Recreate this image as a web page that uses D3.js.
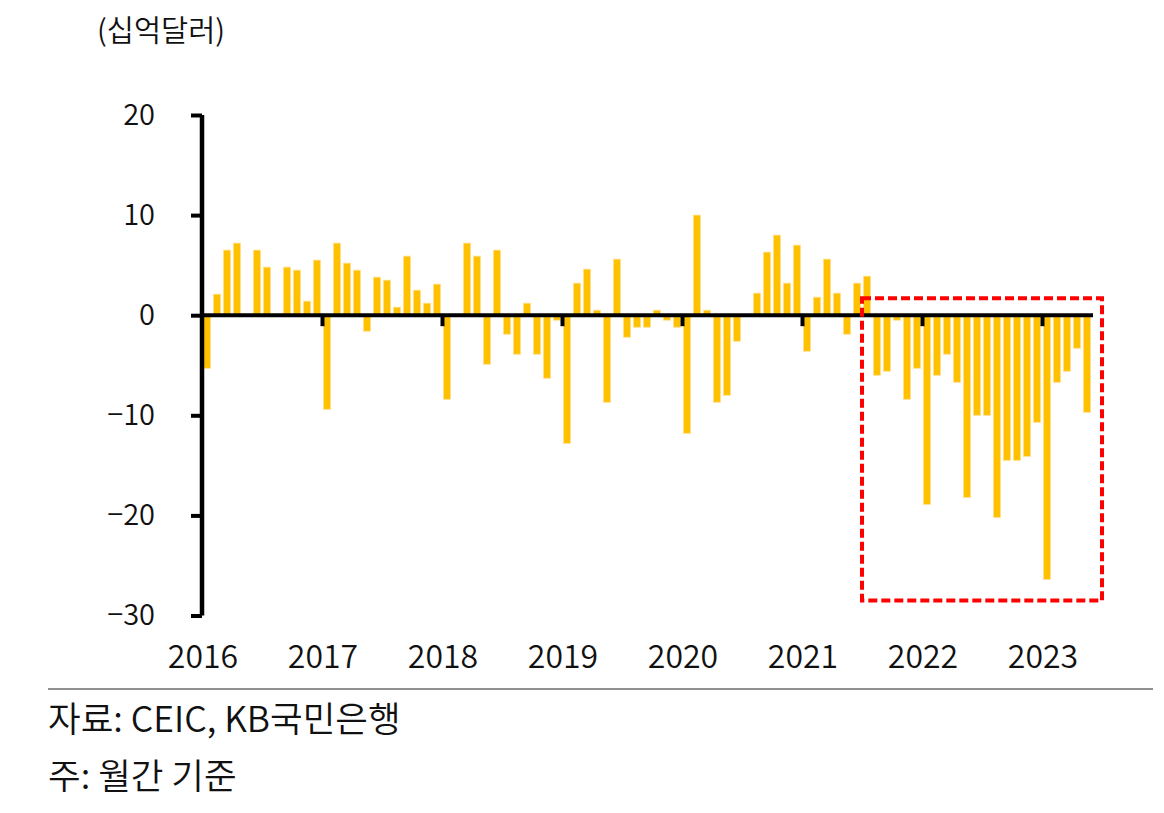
<!DOCTYPE html>
<html>
<head>
<meta charset="utf-8">
<script src="https://cdn.jsdelivr.net/npm/d3@7"></script>
<style>
  body { margin: 0; background: #fff; }
  svg text { font-family: "Noto Sans CJK KR", "Noto Sans", sans-serif; font-weight: 350; fill: #111; }
</style>
</head>
<body>
<div id="chart"></div>
<script>
// monthly values, 2016-01 .. 2023-05 (십억달러)
const years = [2016, 2017, 2018, 2019, 2020, 2021, 2022, 2023];
const values2016 = [-5.3, 2.1, 6.5, 7.2, 0, 6.5, 4.8, 0, 4.8, 4.5, 1.4, 5.5];
const values2017 = [-9.4, 7.2, 5.2, 4.5, -1.6, 3.8, 3.5, 0.8, 5.9, 2.5, 1.2, 3.1];
const values2018 = [-8.4, 0, 7.2, 5.9, -4.9, 6.5, -1.9, -3.9, 1.2, -3.9, -6.3, -0.5];
const values2019 = [-12.8, 3.2, 4.6, 0.5, -8.7, 5.6, -2.2, -1.2, -1.2, 0.5, -0.5, -1.2];
const values2020 = [-11.8, 10.0, 0.5, -8.7, -8.0, -2.6, 0, 2.2, 6.3, 8.0, 3.2, 7.0];
const values2021 = [-3.6, 1.8, 5.6, 2.2, -1.9, 3.2, 3.9, -6.0, -5.6, -0.5, -8.4, -5.3];
const values2022 = [-18.9, -6.0, -3.9, -6.7, -18.2, -10.0, -10.0, -20.2, -14.5, -14.5, -14.1, -10.7];
const values2023 = [-26.4, -6.7, -5.6, -3.3, -9.7];
const yTicks = [20, 10, 0, -10, -20, -30];

const unitLabel = "(십억달러)";
const sourceNote = "자료: CEIC, KB국민은행";
const footNote = "주: 월간 기준";

// highlighted period (red dashed box)
const highlightFrom = 2021.5, highlightTo = 2023.5;
const highlightTop = 1.7, highlightBottom = -28.5;

const allValues = [values2016, values2017, values2018, values2019,
  values2020, values2021, values2022, values2023];
const data = [];
allValues.forEach((arr, yi) => {
  arr.forEach((v, m) => {
    data.push({ key: `${years[yi]}-${String(m + 1).padStart(2, "0")}`, value: v });
  });
});

const svgWidth = 1164, svgHeight = 813;
const left = 202, right = left + data.length * 10;

const svg = d3.select("#chart").append("svg")
  .attr("width", svgWidth)
  .attr("height", svgHeight);

const x = d3.scaleBand()
  .domain(data.map(d => d.key))
  .range([left, right])
  .paddingInner(0.3)
  .paddingOuter(0.15);

const xYear = d3.scaleLinear()
  .domain([2016, 2016 + data.length / 12])
  .range([left, right]);

const y = d3.scaleLinear()
  .domain([-30, 20])
  .range([615.5, 115]);

// bars
svg.append("g").selectAll("rect")
  .data(data.filter(d => d.value !== 0))
  .join("rect")
  .attr("x", d => x(d.key))
  .attr("width", x.bandwidth())
  .attr("y", d => y(Math.max(0, d.value)))
  .attr("height", d => Math.abs(y(d.value) - y(0)))
  .attr("fill", "#FFC000")
  .attr("stroke", "#FFE08C")
  .attr("stroke-width", 0.8);

// zero line with year ticks
const xAxis = svg.append("g")
  .attr("transform", `translate(0,${y(0)})`)
  .call(d3.axisBottom(xYear).tickValues(years.slice(1)).tickSize(11).tickFormat(""));
xAxis.select(".domain").remove();
xAxis.selectAll(".tick line").attr("stroke", "#000").attr("stroke-width", 4);
xAxis.append("line")
  .attr("x1", left).attr("x2", right + 1)
  .attr("stroke", "#000").attr("stroke-width", 4);

// year labels
svg.append("g").selectAll("text")
  .data(years)
  .join("text")
  .attr("x", d => xYear(d) + 1)
  .attr("y", 668)
  .attr("text-anchor", "middle")
  .attr("font-size", 32)
  .text(d => d);

// y axis
const yAxis = svg.append("g")
  .attr("transform", `translate(${left},0)`)
  .call(d3.axisLeft(y).tickValues(yTicks).tickSize(11).tickPadding(36)
    .tickFormat(d => d < 0 ? "\u2212" + Math.abs(d) : d));
yAxis.select(".domain").attr("stroke-width", 4.5).attr("d", `M0,${y(20)}V${y(-30)}`);
yAxis.selectAll(".tick line").attr("stroke", "#000").attr("stroke-width", 4);
yAxis.selectAll(".tick text")
  .attr("font-size", 29)
  .attr("font-family", "'Noto Sans CJK KR', sans-serif")
  .attr("font-weight", 350)
  .attr("fill", "#111");

// highlight box
svg.append("rect")
  .attr("x", xYear(highlightFrom))
  .attr("y", y(highlightTop))
  .attr("width", xYear(highlightTo) - xYear(highlightFrom))
  .attr("height", y(highlightBottom) - y(highlightTop))
  .attr("fill", "none")
  .attr("stroke", "#FF0000")
  .attr("stroke-width", 4)
  .attr("stroke-dasharray", "9 4");

// unit label
svg.append("text")
  .attr("x", 97)
  .attr("y", 41)
  .attr("font-size", 29.5)
  .text(unitLabel);

// footer
svg.append("line")
  .attr("x1", 48).attr("x2", 1153)
  .attr("y1", 689).attr("y2", 689)
  .attr("stroke", "#222").attr("stroke-width", 1.2);

svg.append("text")
  .attr("x", 48)
  .attr("y", 732)
  .attr("font-size", 35.5)
  .text(sourceNote);

svg.append("text")
  .attr("x", 48)
  .attr("y", 789)
  .attr("font-size", 35.5)
  .text(footNote);
</script>
</body>
</html>
